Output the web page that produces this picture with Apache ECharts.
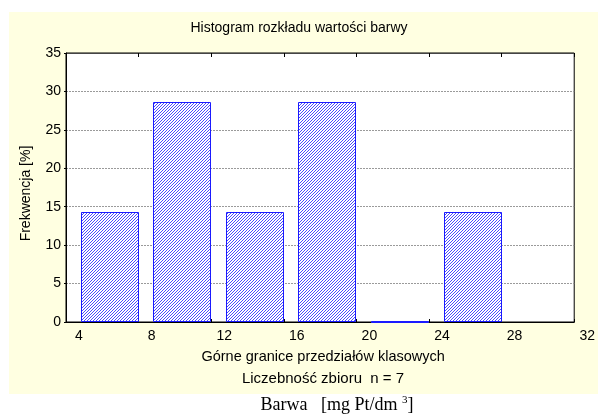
<!DOCTYPE html>
<html>
<head>
<meta charset="utf-8">
<script src="https://cdn.jsdelivr.net/npm/echarts@6/dist/echarts.min.js"></script>
<style>
html,body{margin:0;padding:0;background:#fff;}
#chart{width:598px;height:415px;}
</style>
</head>
<body>
<div id="chart"></div>
<script>
// ---- data ----
const binLower = [4, 8, 12, 16, 20, 24];
const binUpper = [8, 12, 16, 20, 24, 28];
const percent = [14.3, 28.6, 14.3, 28.6, 0, 14.3];
const xTicks = [4, 8, 12, 16, 20, 24, 28, 32];
const yTicks = [0, 5, 10, 15, 20, 25, 30, 35];
const titleText = 'Histogram rozkładu wartości barwy';
const xName = 'Górne granice przedziałów klasowych';
const yName = 'Frekwencja [%]';
const countText = 'Liczebność zbioru  n = 7';

// hatch pattern (pixel based, "/" direction)
const tile = document.createElement('canvas');
tile.width = 3; tile.height = 3;
const c = tile.getContext('2d');
c.fillStyle = '#ffffff';
c.fillRect(0, 0, 3, 3);
c.fillStyle = '#4a4aff';
for (let i = 0; i < 3; i++) { c.fillRect(2 - i, i, 1, 1); }

const data = binLower.map((lo, i) => [lo, binUpper[i], percent[i]]);

const chart = echarts.init(document.getElementById('chart'), null, {renderer: 'canvas'});
const font = 'Liberation Sans, Arial, sans-serif';
const fs = 14;

chart.setOption({
  backgroundColor: '#ffffff',
  animation: false,
  graphic: [
    {type: 'rect', z: -10, shape: {x: 9, y: 12, width: 589, height: 382}, style: {fill: '#FFFFE1'}},
    {type: 'text', left: 'center', top: 21, z: 10,
      style: {text: titleText, fontFamily: font, fontSize: 14, fill: '#000'}},
    {type: 'text', x: 323, y: 379, z: 10,
      style: {text: countText, fontFamily: font, fontSize: 15, fill: '#000', textAlign: 'center', textVerticalAlign: 'middle'}},
    {type: 'text', x: 337, y: 405, z: 10,
      style: {
        text: 'Barwa   [mg Pt/dm {sup|3}]',
        fontFamily: 'Liberation Serif, Times New Roman, serif', fontSize: 18, fill: '#000',
        textAlign: 'center', textVerticalAlign: 'middle',
        rich: {sup: {fontSize: 11, verticalAlign: 'top', padding: [0, 0, 10, 0], fontFamily: 'Liberation Serif, serif'}}
      }}
  ],
  grid: {left: 66, top: 53, width: 509, height: 269, show: true, backgroundColor: '#ffffff', borderColor: '#000', borderWidth: 1},
  xAxis: [
    {type: 'value', min: xTicks[0], max: xTicks[xTicks.length - 1], interval: 4, position: 'bottom',
      name: xName, nameLocation: 'middle', nameGap: 27,
      nameTextStyle: {fontFamily: font, fontSize: 14.5, color: '#000', padding: [0, 0, 0, 6]},
      axisLine: {show: true, lineStyle: {color: '#000'}},
      axisTick: {show: true, inside: true, length: 3, lineStyle: {color: '#000'}},
      axisLabel: {color: '#000', fontFamily: font, fontSize: fs, margin: 7, padding: [0, 0, 0, 26],
        formatter: v => xTicks.includes(v) ? String(v) : ''},
      splitLine: {show: false}},
    {type: 'value', min: xTicks[0], max: xTicks[xTicks.length - 1], interval: 4, position: 'top',
      axisLine: {show: true, lineStyle: {color: '#444'}},
      axisTick: {show: true, inside: true, length: 4, lineStyle: {color: '#000'}},
      axisLabel: {show: false}, splitLine: {show: false}}
  ],
  yAxis: {
    type: 'value', min: yTicks[0], max: yTicks[yTicks.length - 1], interval: 5,
    name: yName, nameLocation: 'middle', nameGap: 33,
    nameTextStyle: {fontFamily: font, fontSize: fs, color: '#000', padding: [0, 12, 0, 0]},
    axisLine: {show: true, lineStyle: {color: '#000'}},
    axisTick: {show: true, length: 2, lineStyle: {color: '#000'}},
    axisLabel: {color: '#000', fontFamily: font, fontSize: fs, margin: 5},
    splitLine: {show: true, lineStyle: {color: '#9a9a9a', type: [2, 1], width: 1}}
  },
  series: [{
    type: 'custom',
    xAxisIndex: 0,
    data: data,
    encode: {x: [0, 1], y: 2},
    renderItem: function (params, api) {
      const lo = api.value(0), hi = api.value(1), v = api.value(2);
      const p0 = api.coord([lo, 0]);
      const p1 = api.coord([hi, v]);
      const w = p1[0] - p0[0];
      const left = p0[0] + 0.2 * w;
      const right = p1[0] - 1;
      return {
        type: 'rect',
        shape: {x: Math.round(left) + 0.5, y: Math.round(p1[1]) + 0.5, width: Math.round(right - left), height: Math.round(p0[1] - p1[1]) - 1},
        style: {fill: {image: tile, repeat: 'repeat'}, stroke: '#1a1aff', lineWidth: 1}
      };
    }
  }]
});
</script>
</body>
</html>
